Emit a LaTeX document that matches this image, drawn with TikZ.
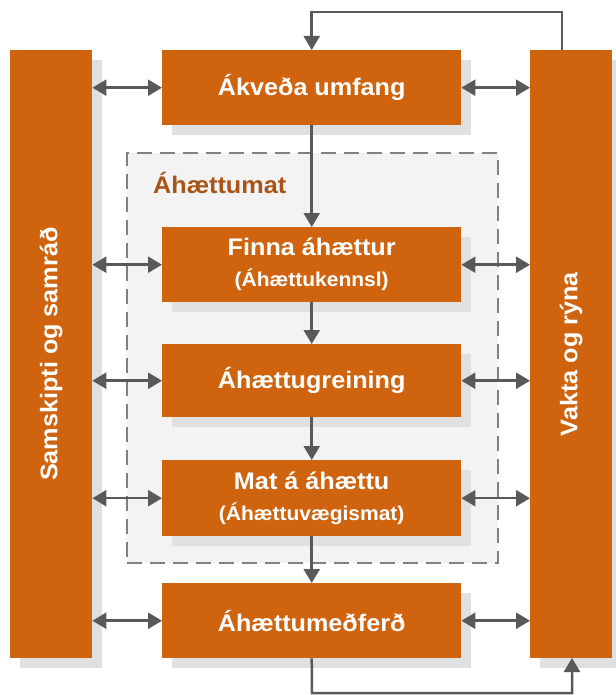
\documentclass[tikz,border=0pt]{standalone}
\usepackage{fontspec}
\setmainfont{Liberation Sans}[FakeStretch=1.05]
\usetikzlibrary{arrows.meta}
\definecolor{org}{RGB}{208,99,14}
\definecolor{arr}{RGB}{89,89,89}
\definecolor{shd}{RGB}{224,224,224}
\definecolor{dbg}{RGB}{243,243,243}
\definecolor{dln}{RGB}{128,128,128}
\definecolor{lbl}{RGB}{168,84,24}
\newcommand\subfnt{\fontsize{20}{24}\selectfont}
\begin{document}
\begin{tikzpicture}[x=1pt,y=-1pt,
  shadowed/.style={preaction={fill=shd, transform canvas={shift={(10pt,-10pt)}}}},
  obox/.style={shadowed, fill=org, inner sep=0pt, anchor=north west, minimum width=299pt},
  bar/.style={shadowed, fill=org, inner sep=0pt, anchor=north west, minimum width=82pt, minimum height=608pt},
  ttl/.style={text=white, font=\bfseries\fontsize{24}{28}\selectfont, align=center, inner sep=0pt},
  con/.style={draw=arr, line width=2.5pt},
  tip/.style={-{Triangle[length=14pt,width=16pt]}},
  dtip/.style={{Triangle[length=14pt,width=16pt]}-{Triangle[length=14pt,width=16pt]}},
]
\useasboundingbox (0,0) rectangle (615,695);
% dashed group
\node[draw=dln, dash pattern=on 15pt off 8pt, line width=2pt, fill=dbg, anchor=north west,
      minimum width=371pt, minimum height=410pt, inner sep=0pt] (D) at (126,152) {};
\node[anchor=base west, text=lbl, font=\bfseries\fontsize{24}{28}\selectfont, inner sep=0pt] (Dl) at (153,193) {Áhættumat};
% side bars
\node[bar] (L) at (10,50) {};
\node[bar] (R) at (530,50) {};
\node[ttl, rotate=90] (Lt) at (L.center) {Samskipti og samráð};
\node[ttl, rotate=90] (Rt) at (R.center) {Vakta og rýna};
% main boxes
\node[obox, minimum height=75pt] (T) at (162,50) {};
\node[ttl] (Tt) at (T.center) {Ákveða umfang};
\node[obox, minimum height=75pt] (F) at (162,227) {};
\node[ttl] (Ft) at (F.center) {Finna áhættur\\[3pt]{\subfnt (Áhættukennsl)}};
\node[obox, minimum height=73pt] (G) at (162,344) {};
\node[ttl] (Gt) at (G.center) {Áhættugreining};
\node[obox, minimum height=76pt] (M) at (162,460) {};
\node[ttl] (Mt) at (M.center) {Mat á áhættu\\[3pt]{\subfnt (Áhættuvægismat)}};
\node[obox, minimum height=75pt] (H) at (162,583) {};
\node[ttl] (Ht) at (H.center) {Áhættumeðferð};
% vertical flow
\draw[con, tip] (T.south) -- (F.north);
\draw[con, tip] (F.south) -- (G.north);
\draw[con, tip] (G.south) -- (M.north);
\draw[con, tip] (M.south) -- (H.north);
% loops
\coordinate (rt) at (562,50);
\coordinate (rb) at (572,658);
\draw[con, tip] (rt) -- (562,12) -| (T.north);
\draw[con, tip] (H.south) -- (312,693) -| (rb);
% side double arrows
\foreach \b in {T,F,G,M,H}{
  \draw[con, dtip] (L.east |- \b.west) -- (\b.west);
  \draw[con, dtip] (\b.east) -- (R.west |- \b.east);
}
\end{tikzpicture}
\end{document}
